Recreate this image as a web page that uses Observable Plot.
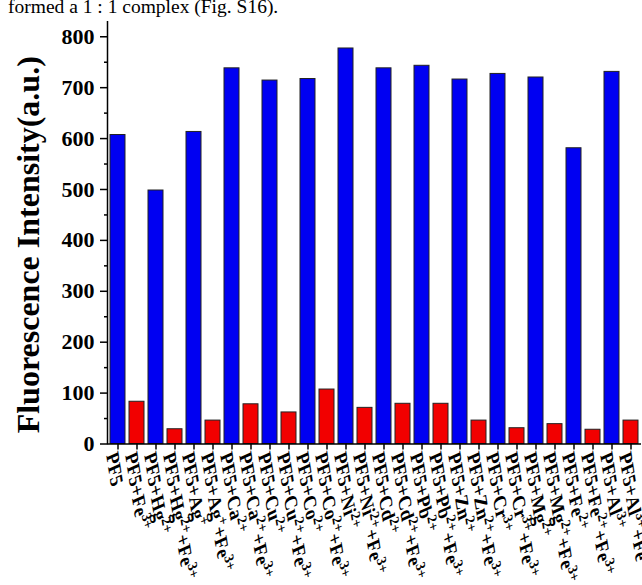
<!DOCTYPE html>
<html><head><meta charset="utf-8">
<script src="https://cdn.jsdelivr.net/npm/d3@7"></script>
<script src="https://cdn.jsdelivr.net/npm/@observablehq/plot@0.6"></script>
<style>
body{margin:0;background:#fff;}
#cap{height:20px;overflow:hidden;font-family:"Liberation Serif","Times New Roman",serif;font-size:19.5px;white-space:nowrap;color:#000;}
#cap span{position:relative;top:-4px;left:8px;}
#chart svg{display:block;}
</style></head><body>
<div id="cap"><span>formed a 1 : 1 complex (Fig. S16).</span></div>
<div id="chart"></div>
<script>
// Data
const ions = ["", "Hg²⁺", "Ag⁺", "Ca²⁺", "Cu²⁺", "Co²⁺", "Ni²⁺", "Cd²⁺", "Pb²⁺", "Zn²⁺", "Cr³⁺", "Mg²⁺", "Fe²⁺", "Al³⁺"];
const withoutFe = [607, 498, 613, 738, 714, 717, 777, 738, 743, 716, 727, 720, 581, 731];
const withFe = [83, 29, 46, 78, 62, 107, 71, 79, 79, 46, 31, 39, 28, 46];
const yTicks = [0, 100, 200, 300, 400, 500, 600, 700, 800];
const yMinorTicks = [50, 150, 250, 350, 450, 550, 650, 750];
const yTitle = "Fluorescence Intensity(a.u.)";

const data = [];
ions.forEach((ion, i) => {
  const base = "PF5" + (ion ? "+" + ion : "");
  data.push({label: base, value: withoutFe[i], group: "PF5"});
  data.push({label: base + "+Fe³⁺", value: withFe[i], group: "Fe"});
});
const labels = data.map(d => d.label);

const serif = '"Liberation Serif","Times New Roman",serif';

const leftLine = (index, scales, values, dims) => {
  const l = document.createElementNS("http://www.w3.org/2000/svg", "line");
  const x0 = dims.marginLeft - 0.5;
  l.setAttribute("x1", x0); l.setAttribute("x2", x0);
  l.setAttribute("y1", scales.y(830)); l.setAttribute("y2", scales.y(0) + 0.75);
  l.setAttribute("stroke", "#000"); l.setAttribute("stroke-width", 1.5);
  return l;
};

const chart = Plot.plot({
  width: 642, height: 565,
  marginLeft: 108, marginRight: 1, marginTop: 1, marginBottom: 141.5,
  style: {fontFamily: serif, fontWeight: "bold", fontSize: "22px", color: "#000", background: "#fff", overflow: "visible"},
  x: {domain: labels, paddingInner: 0.2, paddingOuter: 0.07, label: null},
  y: {domain: [0, 830], label: null},
  color: {domain: ["PF5", "Fe"], range: ["#0000f2", "#f20000"]},
  marks: [
    Plot.barY(data, {x: "label", y: "value", fill: "group", stroke: "#222", strokeWidth: 1}),
    Plot.ruleY([0], {stroke: "#000", strokeWidth: 1.5}),
    leftLine,
    Plot.axisY({ticks: yTicks, tickSize: 8, tickPadding: 6, label: null, tickFormat: d3.format("d"), strokeWidth: 1.5}),
    Plot.axisY({ticks: yMinorTicks, tickSize: 4, label: null, tickFormat: () => "", strokeWidth: 1.5}),
    Plot.axisX({tickSize: 6, tickRotate: 81, tickPadding: 3, fontSize: 19, label: null, strokeWidth: 1.5}),
    Plot.text([yTitle], {frameAnchor: "left", textAnchor: "middle", rotate: -90, dx: -70, dy: 12, lineAnchor: "bottom", fontSize: 32})
  ]
});
document.getElementById("chart").appendChild(chart);

// Superscripts + slight shear of the rotated tick labels
const supMap = {"²": "2", "³": "3", "⁺": "+"};
d3.select(chart).selectAll('g[aria-label="x-axis tick label"] text').each(function() {
  const el = this;
  const s = el.textContent;
  el.textContent = "";
  const parts = s.split(/([²³⁺]+)/).filter(p => p.length);
  let shifted = false;
  parts.forEach(p => {
    const t = document.createElementNS("http://www.w3.org/2000/svg", "tspan");
    if (/^[²³⁺]+$/.test(p)) {
      t.textContent = p.split("").map(c => supMap[c]).join("");
      t.setAttribute("font-size", "14px");
      t.setAttribute("dy", "-7");
      shifted = true;
    } else {
      t.textContent = p;
      if (shifted) { t.setAttribute("dy", "7"); shifted = false; }
    }
    el.appendChild(t);
  });
  const tr = el.getAttribute("transform") || "";
  el.setAttribute("transform", "translate(-6,0) " + tr + " skewX(15)");
});
</script>
</body></html>
